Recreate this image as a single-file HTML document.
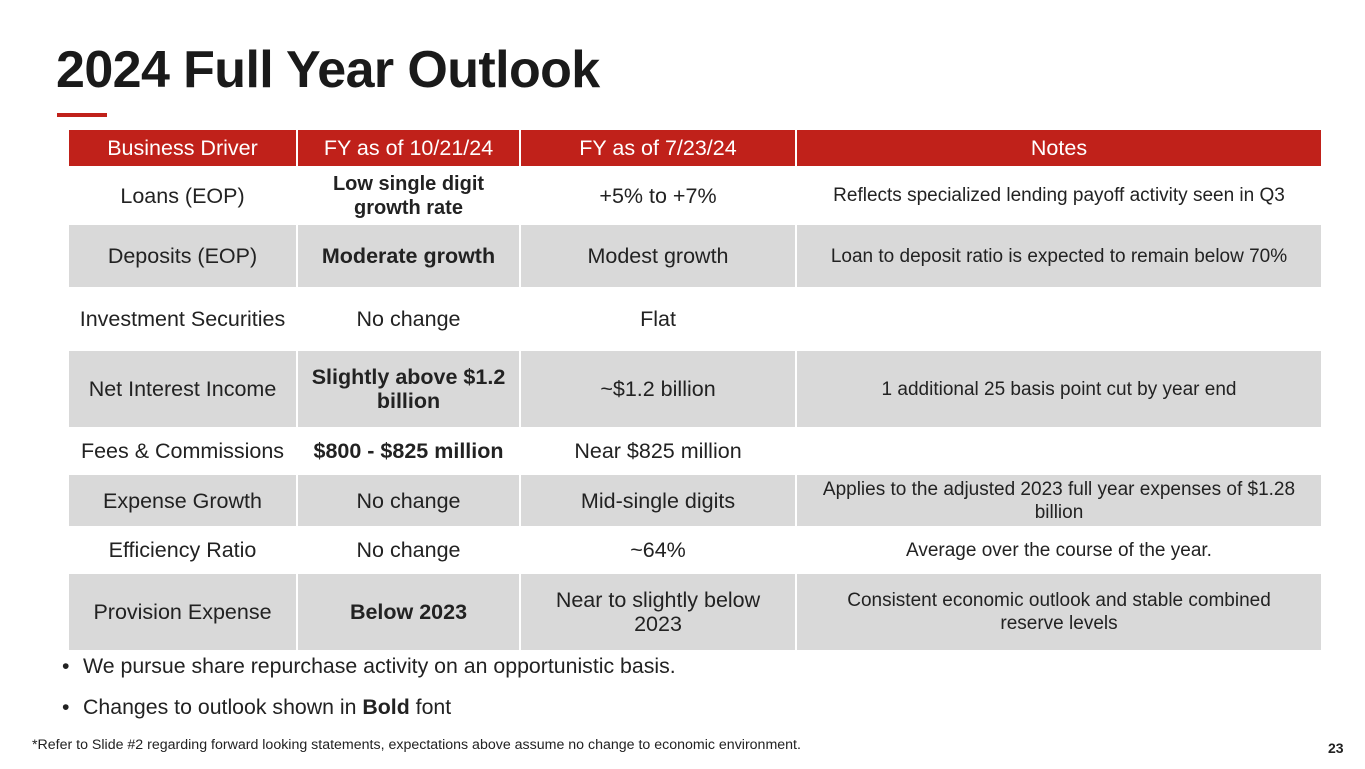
<!DOCTYPE html>
<html><head><meta charset="utf-8"><style>
*{margin:0;padding:0;box-sizing:border-box}
body{width:1365px;height:769px;background:#fff;font-family:"Liberation Sans",Arial,sans-serif;color:#222;position:relative;overflow:hidden}
#title{position:absolute;left:56px;top:40px;font-size:52px;font-weight:bold;color:#1a1a1a;letter-spacing:-0.6px}
#bar{position:absolute;left:57px;top:113px;width:50px;height:4px;background:#c0211a}
table{position:absolute;left:67px;top:130px;width:1254px;border-collapse:collapse;table-layout:fixed}
td,th{text-align:center;vertical-align:middle;font-size:21.5px;border-left:2px solid #fff;border-right:2px solid #fff;padding:0 4px;line-height:24px}
th{background:#c0211a;color:#fff;font-weight:normal;height:36px;font-size:21.5px}
tr.g td{background:#d9d9d9}
td.n{font-size:19px;line-height:23px;padding:0 10px}
td.w{padding:0 12px}
b{font-weight:bold}
.bl{position:absolute;left:62px;font-size:21.3px;color:#222}
.bl span{display:inline-block;width:21px}
#foot{position:absolute;left:32px;top:737px;font-size:14.2px;color:#222}
#pg{position:absolute;left:1328px;top:740px;font-size:14px;font-weight:bold}
</style></head><body>
<div id="title">2024 Full Year Outlook</div>
<div id="bar"></div>
<table>
<colgroup><col style="width:229px"><col style="width:223px"><col style="width:276px"><col style="width:526px"></colgroup>
<tr><th>Business Driver</th><th>FY as of 10/21/24</th><th>FY as of 7/23/24</th><th>Notes</th></tr>
<tr style="height:59px"><td>Loans (EOP)</td><td class="w" style="font-size:20px"><b>Low single digit growth rate</b></td><td>+5% to +7%</td><td class="n">Reflects specialized lending payoff activity seen in Q3</td></tr>
<tr class="g" style="height:62px"><td>Deposits (EOP)</td><td><b>Moderate growth</b></td><td>Modest growth</td><td class="n">Loan to deposit ratio is expected to remain below 70%</td></tr>
<tr style="height:64px"><td>Investment Securities</td><td>No change</td><td>Flat</td><td class="n"></td></tr>
<tr class="g" style="height:76px"><td>Net Interest Income</td><td class="w"><b>Slightly above $1.2 billion</b></td><td>~$1.2 billion</td><td class="n">1 additional 25 basis point cut by year end</td></tr>
<tr style="height:48px"><td>Fees &amp; Commissions</td><td><b>$800 - $825 million</b></td><td>Near $825 million</td><td class="n"></td></tr>
<tr class="g" style="height:51px"><td>Expense Growth</td><td>No change</td><td>Mid-single digits</td><td class="n">Applies to the adjusted 2023 full year expenses of $1.28 billion</td></tr>
<tr style="height:48px"><td>Efficiency Ratio</td><td>No change</td><td>~64%</td><td class="n">Average over the course of the year.</td></tr>
<tr class="g" style="height:76px"><td>Provision Expense</td><td><b>Below 2023</b></td><td class="w" style="padding:0 22px">Near to slightly below 2023</td><td class="n" style="padding:0 30px">Consistent economic outlook and stable combined reserve levels</td></tr>
</table>
<div class="bl" style="top:654px"><span>•</span>We pursue share repurchase activity on an opportunistic basis.</div>
<div class="bl" style="top:695px"><span>•</span>Changes to outlook shown in <b>Bold</b> font</div>
<div id="foot">*Refer to Slide #2 regarding forward looking statements, expectations above assume no change to economic environment.</div>
<div id="pg">23</div>
</body></html>
